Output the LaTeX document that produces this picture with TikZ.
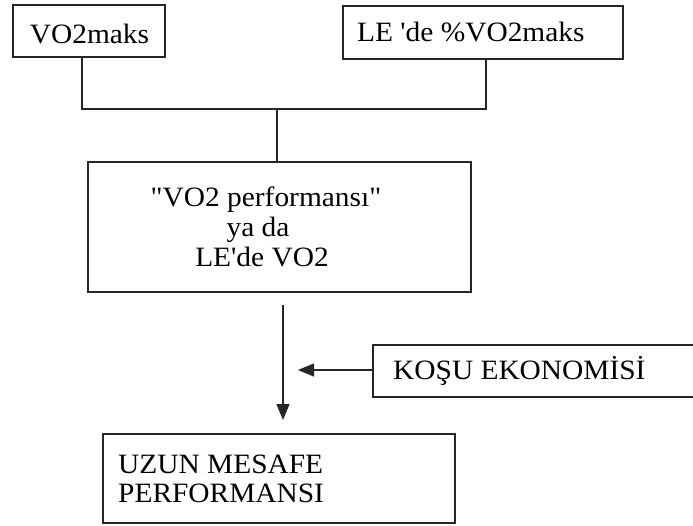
\documentclass[tikz,border=0pt]{standalone}
\usepackage{fontspec}
\setmainfont{Liberation Serif}[Ligatures=TeXOff,FakeStretch=1.05]
\usetikzlibrary{arrows.meta}
\begin{document}
\begin{tikzpicture}[x=1pt,y=-1pt,
  boxline/.style={draw=black!85,line width=1.3pt},
  wire/.style={draw=black!85,line width=1.2pt},
  arr/.style={wire,-{Triangle[length=16pt,width=13pt]}},
  txt/.style={inner sep=0pt,font=\fontsize{28}{31}\selectfont,text=black}]
\useasboundingbox (0,0) rectangle (693,526);
\clip (0,0) rectangle (693,526);
\fill[white] (0,0) rectangle (693,526);
% boxes
\node[boxline,inner sep=0pt,minimum width=152pt,minimum height=52pt] (b1) at (89,31) {};
\node[boxline,inner sep=0pt,minimum width=280pt,minimum height=53pt] (b2) at (483,32.5) {};
\node[boxline,inner sep=0pt,minimum width=383pt,minimum height=130pt] (b3) at (279.5,227) {};
\node[boxline,inner sep=0pt,minimum width=360pt,minimum height=52pt] (b4) at (553,371) {};
\node[boxline,inner sep=0pt,minimum width=352pt,minimum height=89pt] (b5) at (279,478.5) {};
% texts
\node[txt,anchor=base] (t1) at (89.5,44) {VO2maks};
\node[txt,anchor=base west] (t2) at (357,42) {LE \char39de \%VO2maks};
\node[txt,anchor=base] (t3a) at (266,207) {"VO2 performansı"};
\node[txt,anchor=base] (t3b) at (258,237) {ya da};
\node[txt,anchor=base] (t3c) at (262,267) {LE\char39de VO2};
\node[txt,anchor=base west] (t4) at (393,379) {KOŞU EKONOMİSİ};
\node[txt,anchor=base west] (t5a) at (118,473) {UZUN MESAFE};
\node[txt,anchor=base west] (t5b) at (118,502) {PERFORMANSI};
% connectors
\coordinate (j1) at (82,109);
\coordinate (j2) at (486,109);
\coordinate (j3) at (277,109);
\draw[wire] (b1.south -| j1) -- (j1) -- (j2) -- (b2.south -| j2);
\draw[wire] (j3) -- (b3.north -| j3);
\coordinate (a1) at (283,305);
\coordinate (a2) at (283,420);
\draw[arr] (a1) -- (a2);
\coordinate (a3) at (298,370);
\draw[arr] (b4.west |- a3) -- (a3);
\end{tikzpicture}
\end{document}
